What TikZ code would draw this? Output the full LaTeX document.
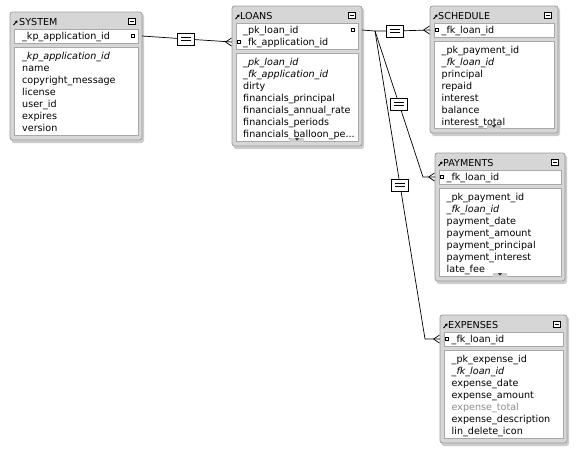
\documentclass[tikz,border=0pt]{standalone}
\usepackage{fontspec}
\setmainfont{DejaVu Sans}
\usetikzlibrary{calc,arrows.meta}
\definecolor{framebg}{HTML}{D6D6D6}
\definecolor{framebd}{HTML}{9C9C9C}
\definecolor{boxbd}{HTML}{A8A8A8}
\definecolor{dimtext}{HTML}{8C8C8C}
\tikzset{
  txt/.style={anchor=base west, inner sep=0pt, font=\fontsize{9.6}{11}\selectfont},
  ttl/.style={anchor=base west, inner sep=0pt, font=\fontsize{9.6}{11}\selectfont},
  conn/.style={draw=black, line width=0.7pt},
  eqbox/.style={draw=black, fill=white, line width=0.7pt, minimum width=17pt, minimum height=12pt, inner sep=0pt,
    path picture={
      \draw[line width=0.7pt] ([xshift=-5pt,yshift=1.7pt]path picture bounding box.center) -- ++(10pt,0pt);
      \draw[line width=0.7pt] ([xshift=-5pt,yshift=-1.7pt]path picture bounding box.center) -- ++(10pt,0pt);}},
  keydot/.style={draw=black, fill=white, line width=0.5pt, minimum size=3pt, inner sep=0pt},
}
% #1 L, #2 T, #3 R, #4 B, #5 key box bottom
\newcommand\erdframe[5]{%
  \fill[black!20, rounded corners=2.5pt] (#1+1.5,#2+2) rectangle (#3+2,#4+3);
  \draw[draw=framebd, fill=framebg, line width=0.8pt, rounded corners=2.5pt] (#1,#2) rectangle (#3,#4);
  \draw[draw=boxbd, fill=white, line width=0.6pt] (#1+4,#2+17) rectangle (#3-4,#5);
  \draw[draw=boxbd, fill=white, line width=0.6pt] (#1+4,#5+4) rectangle (#3-4,#4-5);
  \draw[line width=0.9pt, -{Triangle[length=2.2pt,width=2.8pt]}] (#1+3.5,#2+13) -- (#1+7.5,#2+8.5);
  \draw[line width=0.6pt, fill=white] (#3-14,#2+6) rectangle (#3-7,#2+12);
  \draw[line width=0.9pt] (#3-12.5,#2+9) -- (#3-8.5,#2+9);
}
% #1 center x, #2 B
\newcommand\erdscroll[2]{%
  \fill[gray!40] (#1-7,#2-4.5) rectangle (#1+7,#2-8.5);
  \fill[black!75] (#1-2,#2-7.8) -- (#1+2,#2-7.8) -- (#1,#2-5.3) -- cycle;
}
\newcommand\crowfoot[1]{%
  \draw[conn] ($(#1)+(-6.5,0)$) -- ($(#1)+(-0.5,-4)$) ($(#1)+(-6.5,0)$) -- ($(#1)+(-0.5,4)$);
}
\begin{document}
\begin{tikzpicture}[x=1pt,y=-1pt]
\useasboundingbox (0,0) rectangle (586,451);
\fill[white] (0,0) rectangle (586,451);

% ---------------- SYSTEM
\erdframe{10}{12}{142}{140}{43}
\node[ttl] (sys-title) at (19,25.5) {SYSTEM};
\node[txt] (sys-k1) at (22,39.5) {\_kp\_application\_id};
\node[keydot] (sys-kdot) at (132.5,36) {};
\foreach \t [count=\i] in {\textit{\_kp\_application\_id},name,copyright\_message,license,user\_id,expires,version}
  \node[txt] (sys-f\i) at (22,47.5+12*\i) {\t};
\coordinate (sys-port) at (142,36);

% ---------------- LOANS
\erdframe{232}{6}{362}{146}{49}
\node[ttl] (loans-title) at (240,19.5) {LOANS};
\node[txt] (loans-k1) at (243,33.5) {\_pk\_loan\_id};
\node[txt] (loans-k2) at (243,45.5) {\_fk\_application\_id};
\node[keydot] (loans-pkdot) at (353,30) {};
\node[keydot] (loans-fkdot) at (239,42) {};
\foreach \t [count=\i] in {\textit{\_pk\_loan\_id},\textit{\_fk\_application\_id},dirty,financials\_principal,financials\_annual\_rate,financials\_periods,{financials\_balloon\_pe\char46\char46\char46}}
  \node[txt] (loans-f\i) at (243,53.5+12*\i) {\t};
\erdscroll{297}{146}
\coordinate (loans-pk-port) at (362,30);
\coordinate (loans-fk-port) at (232,42);

% ---------------- SCHEDULE
\erdframe{430}{6}{558}{133}{37}
\node[ttl] (sched-title) at (438,19.5) {SCHEDULE};
\node[txt] (sched-k1) at (441.5,33.5) {\_fk\_loan\_id};
\node[keydot] (sched-fkdot) at (437,30) {};
\foreach \t [count=\i] in {\_pk\_payment\_id,\textit{\_fk\_loan\_id},principal,repaid,interest,balance,interest\_total}
  \node[txt] (sched-f\i) at (441.5,41.5+12*\i) {\t};
\erdscroll{494}{133}
\coordinate (sched-port) at (430,30);

% ---------------- PAYMENTS
\erdframe{435}{153}{565}{281}{184}
\node[ttl] (paym-title) at (443,166.5) {PAYMENTS};
\node[txt] (paym-k1) at (446.5,180.5) {\_fk\_loan\_id};
\node[keydot] (paym-fkdot) at (442,177) {};
\foreach \t [count=\i] in {\_pk\_payment\_id,\textit{\_fk\_loan\_id},payment\_date,payment\_amount,payment\_principal,payment\_interest,late\_fee}
  \node[txt] (paym-f\i) at (446.5,188.5+12*\i) {\t};
\erdscroll{500}{281}
\coordinate (paym-port) at (435,177);

% ---------------- EXPENSES
\erdframe{440}{315}{567}{443}{346}
\node[ttl] (exp-title) at (448,328.5) {EXPENSES};
\node[txt] (exp-k1) at (451.5,342.5) {\_fk\_loan\_id};
\node[keydot] (exp-fkdot) at (447,339) {};
\foreach \t [count=\i] in {\_pk\_expense\_id,\textit{\_fk\_loan\_id},expense\_date,expense\_amount,{\color{dimtext}expense\_total},expense\_description,lin\_delete\_icon}
  \node[txt] (exp-f\i) at (451.5,350.5+12*\i) {\t};
\coordinate (exp-port) at (440,339);

% ---------------- connectors
\coordinate (junc) at (375,31);
\coordinate (pbend) at (423,177);
\coordinate (ebend) at (425,339);
\node[eqbox] (eq1) at (186,39) {};
\node[eqbox] (eq2) at (395,31) {};
\node[eqbox] (eq3) at ($(junc)!0.5!(pbend)$) {};
\node[eqbox] (eq4) at ($(junc)!0.5!(ebend)$) {};

\draw[conn] (sys-port) -- (eq1) -- (loans-fk-port);
\crowfoot{loans-fk-port}
\draw[conn] (loans-pk-port) -- (junc) -- (eq2) -- (sched-port);
\crowfoot{sched-port}
\draw[conn] (junc) -- (eq3) -- (pbend) -- (paym-port);
\crowfoot{paym-port}
\draw[conn] (junc) -- (eq4) -- (ebend) -- (exp-port);
\crowfoot{exp-port}
\end{tikzpicture}
\end{document}
